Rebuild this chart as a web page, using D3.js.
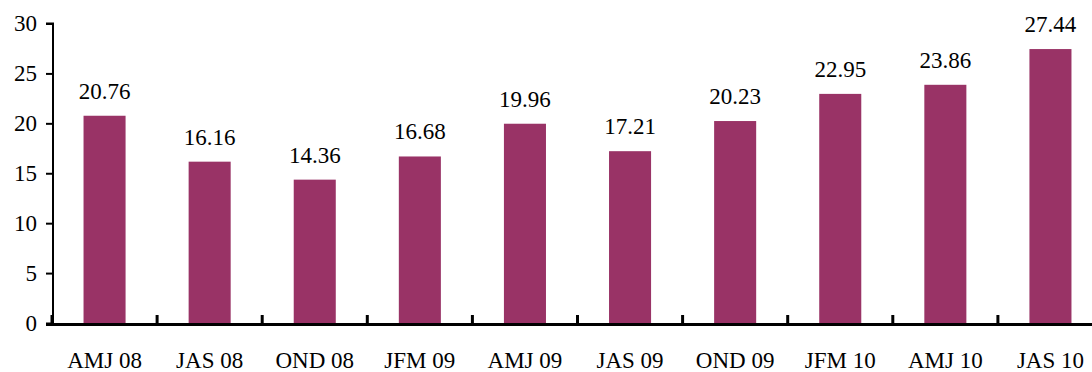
<!DOCTYPE html>
<html>
<head>
<meta charset="utf-8">
<script src="https://cdn.jsdelivr.net/npm/d3@7"></script>
<style>
  body { margin: 0; background: #fff; }
  svg { display: block; }
  text { font-family: "Liberation Serif", "Times New Roman", serif; fill: #000; }
</style>
</head>
<body>
<svg id="chart" width="1092" height="372"></svg>
<script>
const categories = ["AMJ 08", "JAS 08", "OND 08", "JFM 09", "AMJ 09", "JAS 09", "OND 09", "JFM 10", "AMJ 10", "JAS 10"];
const values = [20.76, 16.16, 14.36, 16.68, 19.96, 17.21, 20.23, 22.95, 23.86, 27.44];
const yTicks = [0, 5, 10, 15, 20, 25, 30];

const svg = d3.select("#chart");
const x0 = 52, step = 105.1;
const x = d3.scaleBand().domain(categories)
  .range([x0, x0 + step * categories.length])
  .paddingInner(0.6).paddingOuter(0.3);
const y = d3.scaleLinear().domain([0, 30]).range([323, 23.5]);

// bars
svg.selectAll("rect.bar").data(values).enter().append("rect")
  .attr("class", "bar")
  .attr("x", (d, i) => x(categories[i]))
  .attr("width", x.bandwidth())
  .attr("y", d => y(d))
  .attr("height", d => y(0) - y(d))
  .attr("fill", "#993366");

// value labels
svg.selectAll("text.val").data(values).enter().append("text")
  .attr("class", "val")
  .attr("x", (d, i) => x(categories[i]) + x.bandwidth() / 2)
  .attr("y", d => y(d) - 17)
  .attr("text-anchor", "middle")
  .attr("font-size", 23)
  .text(d => d.toFixed(2));

// y axis
const yAxis = d3.axisLeft(y).tickValues(yTicks).tickSize(7).tickPadding(9);
const gy = svg.append("g").attr("transform", "translate(53,0)").call(yAxis);
gy.select(".domain").attr("stroke", "#000").attr("stroke-width", 2).attr("d", `M-7,${y(30)}H0V${y(0)}`);
gy.selectAll(".tick line").attr("stroke", "#000").attr("stroke-width", 2);
gy.selectAll(".tick text").attr("font-size", 23).attr("font-family", "Liberation Serif").attr("fill", "#000");

// x axis
const boundaries = d3.range(categories.length + 1).map(i => x0 + i * step);
const gx = svg.append("g");
gx.append("line").attr("x1", 46).attr("x2", 1092).attr("y1", 324.5).attr("y2", 324.5)
  .attr("stroke", "#000").attr("stroke-width", 3);
gx.selectAll("line.xt").data(boundaries).enter().append("line")
  .attr("class", "xt")
  .attr("x1", d => d).attr("x2", d => d)
  .attr("y1", 315).attr("y2", 324)
  .attr("stroke", "#000").attr("stroke-width", 3);
gx.selectAll("text.xl").data(categories).enter().append("text")
  .attr("class", "xl")
  .attr("x", d => x(d) + x.bandwidth() / 2)
  .attr("y", 368)
  .attr("text-anchor", "middle")
  .attr("font-size", 23)
  .text(d => d);
</script>
</body>
</html>
